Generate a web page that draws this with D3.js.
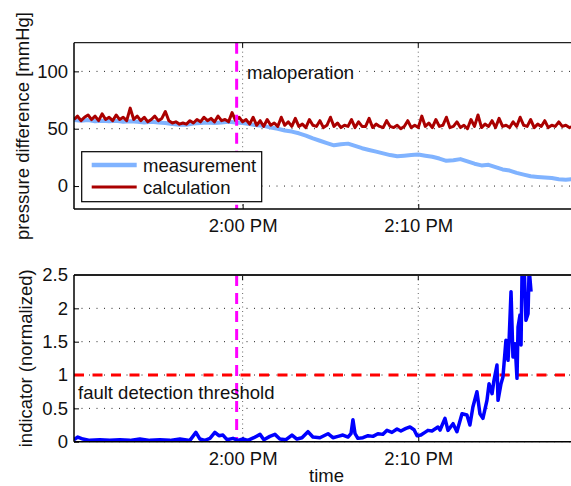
<!DOCTYPE html>
<html>
<head>
<meta charset="utf-8">
<script src="https://cdn.jsdelivr.net/npm/d3@7"></script>
<style>
  html, body { margin: 0; padding: 0; background: #fff; }
  svg { display: block; font-family: "Liberation Sans", Arial, Helvetica, sans-serif; }
</style>
</head>
<body>
<svg id="chart" width="571" height="486"></svg>
<script>
// ---------------- DATA ----------------
// time axis (minutes relative to 2:00 PM)
const timeDomain = [-9.6, 19.15];
const xTickLabels = ["2:00 PM", "2:10 PM"];
const maloperationTime = -0.34;
const threshold = 1;

// top panel: pressure difference [mmHg]
const topYTicks = [0, 50, 100];
const measurementStart = -9.6, measurementStep = 0.4;
const measurement = [
  57.5, 57, 57.5, 56.5, 57, 56.5, 57, 56, 56.5, 56, 55.5, 56, 55.5, 55, 54, 53.5, 53.5, 54.5, 55, 55.5, 55, 55.5, 56, 55.5, 55,
  54, 53, 52.5, 51, 50, 48.5, 47.5, 46, 44, 41.5, 39.5, 37.5, 35.5, 36.5, 37, 35, 33, 31.5, 30, 28.5, 27, 26, 26.5, 27,
  27.5, 26.5, 25.5, 24, 22, 22.5, 23.5, 21.5, 19.5, 18, 18.5, 16.5, 14.5, 13.5, 11.5, 10, 8.5, 8, 7.5, 7, 6, 5.5, 6
];
const calculationStart = -9.6, calculationStep = 0.2;
const calculation = [
  58, 61, 57, 60, 62, 58, 61, 57, 63, 58,
  60, 57, 62, 58, 60, 57, 68, 58, 61, 57,
  60, 56, 58, 61, 57, 59, 65, 57, 55, 56,
  54, 55, 54, 57, 55, 58, 56, 60, 57, 59,
  56, 61, 57, 58, 56, 64, 57, 60, 56,
  58, 54, 60, 53, 57, 52, 58, 53, 55, 52,
  60, 53, 56, 52, 59, 52, 54, 51, 58, 53,
  52, 57, 51, 53, 60, 52, 55, 51, 53, 52,
  58, 51, 56, 52, 52, 59, 51, 54, 52, 51,
  57, 52, 51, 53, 50, 52, 57, 51, 53, 51,
  61, 52, 55, 51, 58, 52, 53, 60, 51, 52,
  56, 51, 53, 50, 58, 52, 62, 51, 54, 52,
  57, 51, 59, 52, 53, 51, 56, 52, 60, 53,
  52, 58, 51, 54, 52, 57, 51, 53, 52, 56,
  52, 53, 51, 52
];

// bottom panel: indicator (normalized)
const bottomYTicks = [0, 0.5, 1, 1.5, 2, 2.5];
const bottomYTickLabels = ["0", "0.5", "1", "1.5", "2", "2.5"];
const indicatorTime = [
  -9.61, -9.38, -9.09, -8.70, -8.13, -7.56, -6.99, -6.42, -5.85, -5.28, -4.71, -4.14, -3.57, -3.0, -2.66, -2.43,
  -2.15, -1.86, -1.58, -1.35, -1.12, -0.89, -0.55, -0.27, 0.02, 0.30, 0.64, 0.99, 1.21, 1.55, 1.84, 2.12, 2.47,
  2.81, 3.09, 3.38, 3.72, 4.00, 4.40, 4.86, 5.14, 5.43, 5.71, 6.0, 6.17, 6.28, 6.40, 6.56, 6.85, 7.14, 7.42, 7.70,
  7.99, 8.22, 8.50, 8.79, 9.01, 9.30, 9.53, 9.76, 9.93, 10.15, 10.38, 10.55, 10.78, 11.12, 11.24, 11.52, 11.69,
  11.98, 12.20, 12.49, 12.77, 12.94, 13.11, 13.34, 13.51, 13.68, 13.91, 14.03, 14.20, 14.31, 14.48, 14.54, 14.71,
  14.82, 14.99, 15.11, 15.17, 15.28, 15.39, 15.51, 15.62, 15.68, 15.79, 15.85, 15.91, 16.02, 16.13, 16.25, 16.31, 16.42
];
const indicator = [
  0.03, 0.07, 0.04, 0.02, 0.03, 0.02, 0.03, 0.02, 0.04, 0.02, 0.03, 0.02, 0.04, 0.02, 0.14, 0.04,
  0.02, 0.05, 0.14, 0.09, 0.10, 0.03, 0.05, 0.02, 0.04, 0.02, 0.06, 0.11, 0.03, 0.08, 0.11, 0.04, 0.03,
  0.10, 0.04, 0.06, 0.15, 0.07, 0.06, 0.12, 0.06, 0.08, 0.10, 0.07, 0.12, 0.33, 0.12, 0.05, 0.06, 0.09, 0.08, 0.12,
  0.11, 0.17, 0.14, 0.19, 0.16, 0.20, 0.22, 0.18, 0.09, 0.10, 0.14, 0.17, 0.16, 0.22, 0.175, 0.35, 0.17,
  0.27, 0.15, 0.42, 0.40, 0.25, 0.52, 0.75, 0.42, 0.35, 0.62, 0.87, 0.72, 0.92, 1.15, 0.62, 0.87,
  0.97, 1.52, 1.22, 1.52, 2.25, 1.27, 1.47, 0.95, 1.72, 1.90, 1.45, 2.6, 2.7, 1.82, 1.92, 2.6, 2.25
];

// ---------------- CHART ----------------
const svg = d3.select("#chart");
const FONT = 18.5;
const base = new Date(2000, 0, 1, 14, 0, 0);
const toDate = m => new Date(base.getTime() + m * 60000);

const left = 74, right = 579;
const x = d3.scaleTime().domain(timeDomain.map(toDate)).range([left, right]);
const xTicks = [0, 10].map(toDate);

const topPanel = { top: 42.7, bottom: 209 };
const botPanel = { top: 275, bottom: 441.7 };
const yTop = d3.scaleLinear().domain([-20, 125]).range([topPanel.bottom, topPanel.top]);
const yBot = d3.scaleLinear().domain([0, 2.5]).range([botPanel.bottom, botPanel.top]);

const defs = svg.append("defs");
function clip(id, p) {
  defs.append("clipPath").attr("id", id).append("rect")
    .attr("x", left).attr("y", p.top).attr("width", right - left).attr("height", p.bottom - p.top);
}
clip("clipTop", topPanel);
clip("clipBot", botPanel);

function panel(p, y, yTicks, yLabels) {
  const g = svg.append("g");
  g.append("rect").attr("x", left).attr("y", p.top).attr("width", right - left).attr("height", p.bottom - p.top)
    .attr("fill", "#fff");
  // horizontal grid
  g.append("g").selectAll("line").data(yTicks).join("line")
    .attr("x1", left).attr("x2", right)
    .attr("y1", d => y(d)).attr("y2", d => y(d))
    .attr("stroke", "#222").attr("stroke-width", 1).attr("stroke-dasharray", "1,6.5");
  // vertical grid
  g.append("g").selectAll("line").data(xTicks).join("line")
    .attr("x1", d => x(d)).attr("x2", d => x(d))
    .attr("y1", p.top).attr("y2", p.bottom)
    .attr("stroke", "#666").attr("stroke-width", 1).attr("stroke-dasharray", "1,3.5");
  // y axis
  const ya = d3.axisLeft(y).tickValues(yTicks).tickFormat((d, i) => yLabels[i])
    .tickSizeInner(-5).tickSizeOuter(0).tickPadding(6);
  const yg = g.append("g").attr("transform", `translate(${left},0)`).call(ya);
  yg.select(".domain").remove();
  yg.selectAll("text").attr("font-size", FONT).attr("fill", "#111").attr("font-family", null);
  yg.selectAll("line").attr("stroke", "#000");
  // x axis
  const xa = d3.axisBottom(x).tickValues(xTicks).tickFormat((d, i) => xTickLabels[i])
    .tickSizeInner(-5).tickSizeOuter(0).tickPadding(10);
  const xg = g.append("g").attr("transform", `translate(0,${p.bottom})`).call(xa);
  xg.select(".domain").remove();
  xg.selectAll("text").attr("font-size", FONT).attr("fill", "#111").attr("font-family", null);
  xg.selectAll("line").attr("stroke", "#000");
  // top ticks
  g.append("g").selectAll("line").data(xTicks).join("line")
    .attr("x1", d => x(d)).attr("x2", d => x(d)).attr("y1", p.top).attr("y2", p.top + 5)
    .attr("stroke", "#000");
  return g;
}

function frame(p, topW) {
  svg.append("line").attr("x1", left).attr("x2", right).attr("y1", p.top).attr("y2", p.top)
    .attr("stroke", "#222").attr("stroke-width", topW);
  svg.append("line").attr("x1", left).attr("x2", right).attr("y1", p.bottom).attr("y2", p.bottom)
    .attr("stroke", "#000").attr("stroke-width", 1.5);
  svg.append("line").attr("x1", left).attr("x2", left).attr("y1", p.top).attr("y2", p.bottom)
    .attr("stroke", "#000").attr("stroke-width", 1.5);
  svg.append("line").attr("x1", right).attr("x2", right).attr("y1", p.top).attr("y2", p.bottom)
    .attr("stroke", "#000").attr("stroke-width", 1.5);
}

// ----- top panel -----
panel(topPanel, yTop, topYTicks, topYTicks.map(String));
const gTopData = svg.append("g").attr("clip-path", "url(#clipTop)");

const measPts = measurement.map((v, i) => ({ t: measurementStart + i * measurementStep, v }));
const calcPts = calculation.map((v, i) => ({ t: calculationStart + i * calculationStep, v }));
const lineTop = d3.line().x(d => x(toDate(d.t))).y(d => yTop(d.v));

gTopData.append("path").datum(measPts).attr("d", lineTop)
  .attr("fill", "none").attr("stroke", "#80b3ff").attr("stroke-width", 4).attr("stroke-linejoin", "round");
gTopData.append("path").datum(calcPts).attr("d", lineTop)
  .attr("fill", "none").attr("stroke", "#aa0000").attr("stroke-width", 3).attr("stroke-linejoin", "round");
gTopData.append("line")
  .attr("x1", x(toDate(maloperationTime))).attr("x2", x(toDate(maloperationTime)))
  .attr("y1", yTop(125)).attr("y2", yTop(-20))
  .attr("stroke", "#ff00ff").attr("stroke-width", 3).attr("stroke-dasharray", "11,7");

svg.append("text").attr("x", 247).attr("y", 78.5).attr("font-size", FONT).attr("fill", "#111").text("maloperation");

// legend
const lg = svg.append("g");
lg.append("rect").attr("x", 81.7).attr("y", 151.7).attr("width", 180).attr("height", 50)
  .attr("fill", "#fff").attr("stroke", "#000").attr("stroke-width", 1.2);
const legendItems = [
  { name: "measurement", color: "#80b3ff", w: 4.5, y: 165 },
  { name: "calculation", color: "#aa0000", w: 3, y: 187 }
];
legendItems.forEach(it => {
  lg.append("line").attr("x1", 91.7).attr("x2", 136.7).attr("y1", it.y).attr("y2", it.y)
    .attr("stroke", it.color).attr("stroke-width", it.w);
  lg.append("text").attr("x", 143).attr("y", it.y + 7).attr("font-size", FONT).attr("fill", "#111").text(it.name);
});
frame(topPanel, 1.2);

// ----- bottom panel -----
panel(botPanel, yBot, bottomYTicks, bottomYTickLabels);
const gBotData = svg.append("g").attr("clip-path", "url(#clipBot)");
gBotData.append("line")
  .attr("x1", x(toDate(timeDomain[0]))).attr("x2", x(toDate(timeDomain[1])))
  .attr("y1", yBot(threshold)).attr("y2", yBot(threshold))
  .attr("stroke", "#ff0000").attr("stroke-width", 3).attr("stroke-dasharray", "10,8.5");
gBotData.append("line")
  .attr("x1", x(toDate(maloperationTime))).attr("x2", x(toDate(maloperationTime)))
  .attr("y1", yBot(2.5)).attr("y2", yBot(0))
  .attr("stroke", "#ff00ff").attr("stroke-width", 3).attr("stroke-dasharray", "11,7");
const indPts = indicator.map((v, i) => ({ t: indicatorTime[i], v }));
gBotData.append("path").datum(indPts)
  .attr("d", d3.line().x(d => x(toDate(d.t))).y(d => yBot(d.v)))
  .attr("fill", "none").attr("stroke", "#0000ff").attr("stroke-width", 3.5).attr("stroke-linejoin", "round");
svg.append("text").attr("x", 78).attr("y", 399).attr("font-size", FONT).attr("fill", "#111").text("fault detection threshold");
frame(botPanel, 2);

// axis labels
svg.append("text").attr("transform", "translate(29,126) rotate(-90)").attr("text-anchor", "middle")
  .attr("font-size", FONT).attr("fill", "#111").text("pressure difference [mmHg]");
svg.append("text").attr("transform", "translate(32,358.3) rotate(-90)").attr("text-anchor", "middle")
  .attr("font-size", FONT).attr("fill", "#111").text("indicator (normalized)");
svg.append("text").attr("x", (left + right) / 2).attr("y", 482).attr("text-anchor", "middle")
  .attr("font-size", FONT).attr("fill", "#111").text("time");
</script>
</body>
</html>
